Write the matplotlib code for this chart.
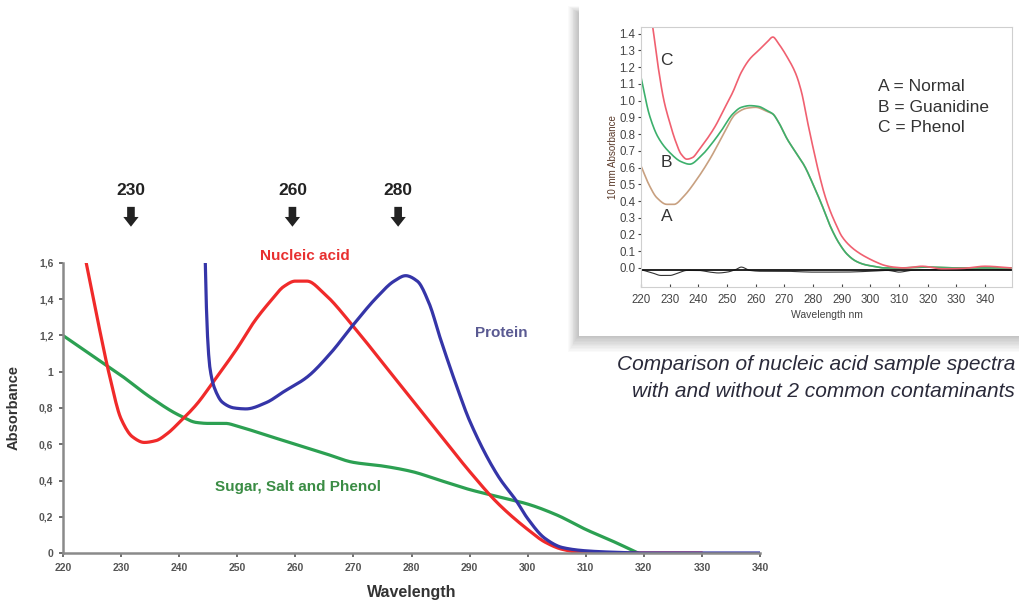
import numpy as np
import matplotlib.pyplot as plt
from matplotlib.patches import Rectangle

W, H = 1019, 602

# main chart: absorbance of the three components
nucleic_wl = [224, 226, 228, 230, 232, 234, 236, 238, 240, 243, 246, 250, 253, 256, 258, 260,
              262, 265, 270, 275, 280, 285, 290, 295, 300, 303, 306, 310, 320, 330]
nucleic_abs = [1.60, 1.28, 0.98, 0.74, 0.64, 0.61, 0.62, 0.66, 0.72, 0.82, 0.95, 1.13, 1.28, 1.40,
               1.47, 1.50, 1.50, 1.43, 1.25, 1.05, 0.85, 0.65, 0.45, 0.27, 0.13, 0.06, 0.02, 0.0, 0.0, 0.0]

protein_wl = [244.5, 244.8, 245.3, 246.2, 247.5, 249.5, 251.5, 255, 258, 262, 266, 270, 274, 277, 279,
              281, 283, 285, 288, 290, 295, 298, 300, 303, 306, 310, 315, 320, 330, 340]
protein_abs = [1.60, 1.25, 1.02, 0.90, 0.83, 0.80, 0.795, 0.83, 0.89, 0.97, 1.10, 1.26, 1.41, 1.50,
               1.53, 1.50, 1.38, 1.18, 0.90, 0.73, 0.42, 0.29, 0.19, 0.08, 0.03, 0.012, 0.004, 0.0, 0.0, 0.0]

sugar_wl = [220, 225, 230, 235, 240, 243, 245, 248, 250, 255, 260, 265, 270, 275, 280, 285,
            290, 295, 300, 305, 310, 315, 319]
sugar_abs = [1.20, 1.09, 0.98, 0.86, 0.76, 0.72, 0.715, 0.715, 0.70, 0.65, 0.60, 0.55, 0.50, 0.48,
             0.45, 0.40, 0.35, 0.31, 0.27, 0.21, 0.13, 0.06, 0.0]

marker_wl = [230, 260, 280]
marker_pos = [231.7, 259.5, 277.7]

# inset: nucleic acid spectra with contaminants
phenol_wl = [222.5, 224, 226, 228, 230, 232, 234, 236, 238, 240, 243, 246, 249, 252, 255, 258,
             261, 264, 266, 268, 271, 274, 276, 278, 280, 282, 284, 286, 288, 290, 293, 296,
             299, 302, 305, 308, 312, 318, 325, 332, 340, 349]
phenol_abs = [1.60, 1.45, 1.20, 1.00, 0.87, 0.76, 0.68, 0.65, 0.66, 0.70, 0.77, 0.85, 0.95, 1.05,
              1.17, 1.25, 1.30, 1.35, 1.38, 1.34, 1.26, 1.16, 1.05, 0.88, 0.72, 0.57, 0.44, 0.34,
              0.26, 0.19, 0.13, 0.09, 0.06, 0.035, 0.015, 0.005, 0.0, 0.01, -0.005, -0.003, 0.01, 0.0]

guan_wl = [220, 223, 226, 230, 234, 237, 241, 245, 248, 252, 255, 258, 261, 264, 266, 268, 271,
           274, 277, 280, 283, 286, 289, 292, 295, 298, 301, 305, 310, 320, 330, 340, 349]
guan_abs = [1.14, 0.91, 0.78, 0.69, 0.635, 0.62, 0.67, 0.75, 0.82, 0.92, 0.96, 0.97, 0.965, 0.94,
            0.92, 0.87, 0.77, 0.69, 0.61, 0.50, 0.38, 0.25, 0.15, 0.08, 0.04, 0.02, 0.01, 0.0,
            0.0, 0.005, 0.0, 0.0, 0.0]

normal_wl = [220, 223, 225.5, 229, 231.5, 235, 239.5, 244, 248.5, 253, 257, 260, 264, 266, 268,
             271, 274, 277, 280, 283, 286, 289, 292, 295, 298, 301, 305, 310, 320, 330, 340, 349]
normal_abs = [0.61, 0.49, 0.42, 0.38, 0.38, 0.43, 0.53, 0.65, 0.79, 0.92, 0.955, 0.96, 0.935, 0.92,
              0.87, 0.77, 0.69, 0.61, 0.50, 0.38, 0.25, 0.15, 0.08, 0.04, 0.02, 0.01, 0.0, 0.0,
              0.005, 0.0, 0.0, 0.0]

blank_wl = [220, 224, 227, 230, 233, 236, 240, 244, 247, 250, 253, 255, 258, 262, 270, 280, 290,
            300, 306, 310, 314, 320, 330, 340, 349]
blank_abs = [-0.01, -0.03, -0.045, -0.045, -0.03, -0.015, -0.015, -0.025, -0.03, -0.025, -0.01,
             0.005, -0.015, -0.02, -0.02, -0.025, -0.025, -0.02, -0.015, -0.025, -0.015, -0.01,
             -0.012, -0.008, -0.012]


def smooth(x, y, n=500):
    # monotone cubic (PCHIP style) interpolation so the spectra look continuous
    x = np.asarray(x, float)
    y = np.asarray(y, float)
    h = np.diff(x)
    d = np.diff(y) / h
    m = np.zeros_like(y)
    for k in range(1, len(y) - 1):
        if d[k - 1] * d[k] > 0:
            w1 = 2 * h[k] + h[k - 1]
            w2 = h[k] + 2 * h[k - 1]
            m[k] = (w1 + w2) / (w1 / d[k - 1] + w2 / d[k])
    m[0], m[-1] = d[0], d[-1]
    xs = np.linspace(x[0], x[-1], n)
    idx = np.clip(np.searchsorted(x, xs) - 1, 0, len(h) - 1)
    t = (xs - x[idx]) / h[idx]
    h00 = 2 * t**3 - 3 * t**2 + 1
    h10 = t**3 - 2 * t**2 + t
    h01 = -2 * t**3 + 3 * t**2
    h11 = t**3 - t**2
    ys = h00 * y[idx] + h10 * h[idx] * m[idx] + h01 * y[idx + 1] + h11 * h[idx] * m[idx + 1]
    return xs, ys


def px_box(x0, y0, x1, y1):
    # pixel box (top-left origin) -> figure fractions [left, bottom, width, height]
    return [x0 / W, 1 - y1 / H, (x1 - x0) / W, (y1 - y0) / H]


def px_rect(x0, y0, x1, y1, **kw):
    # rectangle given in pixels from the top-left corner, drawn on the figure
    l, b, w, h = px_box(x0, y0, x1, y1)
    return Rectangle((l, b), w, h, transform=fig.transFigure, **kw)


plt.rcParams['font.family'] = ['Liberation Sans', 'DejaVu Sans']

fig = plt.figure(figsize=(W / 100, H / 100), dpi=100)

# ---- main chart ----
ax = fig.add_axes(px_box(63, 263, 760, 553))
ax.plot(*smooth(sugar_wl, sugar_abs), color='#2ca052', lw=2.3, solid_capstyle='round')
ax.plot(*smooth(nucleic_wl, nucleic_abs), color='#f02a2a', lw=2.3, solid_capstyle='round')
ax.plot(*smooth(protein_wl, protein_abs), color='#3535a8', lw=2.3, solid_capstyle='round')

ax.set_xlim(220, 340)
ax.set_ylim(0, 1.6)
ax.set_xticks(np.arange(220, 341, 10))
ax.set_yticks(np.arange(0, 1.61, 0.2))
ax.set_yticklabels(['0', '0,2', '0,4', '0,6', '0,8', '1', '1,2', '1,4', '1,6'])
ax.tick_params(labelsize=7.5, colors='#555555', length=3, width=1.2, pad=4)
for lbl in ax.get_xticklabels() + ax.get_yticklabels():
    lbl.set_fontweight('bold')
for side in ['top', 'right']:
    ax.spines[side].set_visible(False)
for side in ['left', 'bottom']:
    ax.spines[side].set_color('#8a8a8a')
    ax.spines[side].set_linewidth(1.8)

ax.set_xlabel('Wavelength', fontsize=11.5, fontweight='bold', color='#333333', labelpad=9)
ax.set_ylabel('Absorbance', fontsize=10.5, fontweight='bold', color='#333333', labelpad=13)

ax.text(261.7, 1.64, 'Nucleic acid', color='#e83030', fontsize=11, fontweight='bold',
        ha='center', va='center', clip_on=False)
ax.text(295.5, 1.215, 'Protein', color='#5a5a92', fontsize=11, fontweight='bold',
        ha='center', va='center')
ax.text(260.5, 0.365, 'Sugar, Salt and Phenol', color='#3a8c44', fontsize=11, fontweight='bold',
        ha='center', va='center')

# wavelength markers with down arrows above the plot
for wl, xpos in zip(marker_wl, marker_pos):
    ax.text(xpos, 2.0, str(wl), fontsize=12.5, fontweight='bold', color='#222222',
            ha='center', va='center', clip_on=False)
    ax.annotate('', xy=(xpos, 1.785), xytext=(xpos, 1.925), annotation_clip=False,
                arrowprops=dict(arrowstyle='simple,head_width=1.1,head_length=0.7,tail_width=0.55',
                                color='#222222', lw=0))

# ---- inset panel with soft drop shadow ----
for k in range(12):
    fig.patches.append(px_rect(568 + k * 0.9, 6 + k * 0.6, W, 352 - k * 1.4,
                               facecolor='#000000', alpha=0.018, edgecolor='none'))
fig.patches.append(px_rect(579, 0, W, 336, facecolor='white', edgecolor='none'))

ins = fig.add_axes(px_box(641, 27, 1012, 287))
ins.set_zorder(5)
ins.plot(*smooth(blank_wl, blank_abs), color='#333333', lw=0.8)
ins.axhline(-0.013, color='#111111', lw=1.3)
ins.plot(*smooth(normal_wl, normal_abs), color='#c8a080', lw=1.2)
ins.plot(*smooth(guan_wl, guan_abs), color='#3cb06c', lw=1.2)
ins.plot(*smooth(phenol_wl, phenol_abs), color='#f06070', lw=1.2)

ins.set_xlim(220, 349.4)
ins.set_ylim(-0.114, 1.44)
ins.set_xticks(np.arange(220, 341, 10))
ins.set_yticks(np.round(np.arange(0, 1.41, 0.1), 1))
ins.yaxis.set_major_formatter(plt.FormatStrFormatter('%.1f'))
ins.tick_params(labelsize=8.3, colors='#444444', length=2, width=0.8, pad=2)
ins.tick_params(axis='x', direction='in', pad=5)
for s in ins.spines.values():
    s.set_color('#cfcfcf')
    s.set_linewidth(0.8)
ins.set_xlabel('Wavelength nm', fontsize=7.5, color='#444444', labelpad=3)
ins.set_ylabel('10 mm Absorbance', fontsize=7, color='#5a3a2a', labelpad=1)

ins.text(229, 1.24, 'C', fontsize=12.5, color='#333333', ha='center', va='center')
ins.text(229, 0.63, 'B', fontsize=12.5, color='#333333', ha='center', va='center')
ins.text(229, 0.31, 'A', fontsize=12.5, color='#333333', ha='center', va='center')
ins.text(0.64, 0.692, 'A = Normal\nB = Guanidine\nC = Phenol', transform=ins.transAxes,
         fontsize=12.5, color='#333333', ha='left', va='center', linespacing=1.45)

fig.text(1015 / W, 1 - 378 / H, 'Comparison of nucleic acid sample spectra\n'
         'with and without 2 common contaminants', fontsize=15, style='italic',
         color='#2a2a3a', ha='right', va='center', linespacing=1.55)

fig.savefig('out.png', dpi=100)
